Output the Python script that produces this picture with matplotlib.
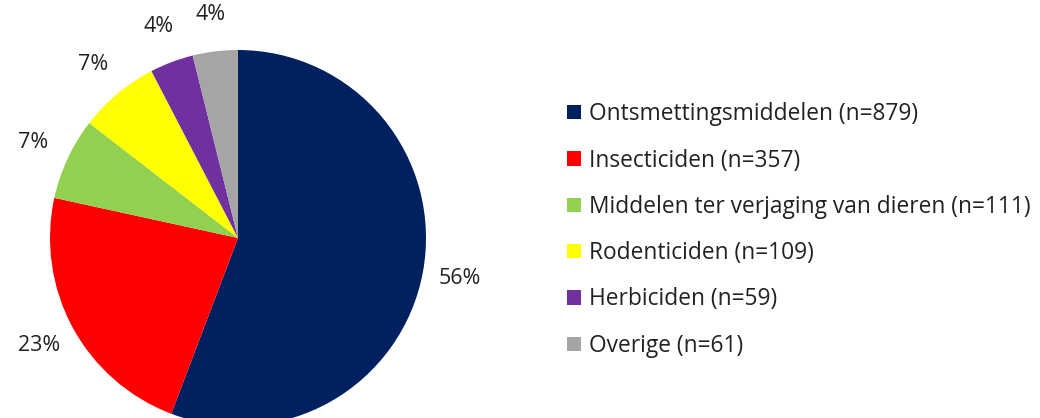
import matplotlib
matplotlib.use("Agg")
import matplotlib.pyplot as plt
from matplotlib.patches import Patch

categories = ["Ontsmettingsmiddelen", "Insecticiden", "Middelen ter verjaging van dieren",
              "Rodenticiden", "Herbiciden", "Overige"]
counts = [879, 357, 111, 109, 59, 61]
colors = ["#002060", "#FF0000", "#92D050", "#FFFF00", "#7030A0", "#A5A5A5"]

plt.rcParams['font.family'] = ['Open Sans', 'DejaVu Sans']

W, H = 1040, 418
fig = plt.figure(figsize=(W / 100, H / 100), dpi=100)
ax = fig.add_axes([0, 0, 1, 1])
ax.set_xlim(0, W)
ax.set_ylim(0, H)
ax.set_aspect('equal')
ax.axis('off')

wedges, texts, autotexts = ax.pie(
    counts, colors=colors, startangle=90, counterclock=False,
    center=(238, H - 238), radius=188,
    autopct=lambda p: f"{p:.0f}%", pctdistance=1.2,
    textprops=dict(fontsize=15.5, color="#222222"),
    wedgeprops=dict(linewidth=0),
)
ax.set_xlim(0, W)
ax.set_ylim(0, H)

handles = [Patch(facecolor=c, edgecolor='none') for c in colors]
labels = [f"{c} (n={n})" for c, n in zip(categories, counts)]
leg = ax.legend(handles, labels, loc='center left',
                bbox_to_anchor=(567 / W, 1 - 230 / H), bbox_transform=fig.transFigure,
                frameon=False, fontsize=16.4, labelspacing=0.98,
                handlelength=0.6, handleheight=0.6, handletextpad=0.35,
                borderaxespad=0, borderpad=0)
for t in leg.get_texts():
    t.set_color("#222222")

fig.savefig("out.png", dpi=100)
